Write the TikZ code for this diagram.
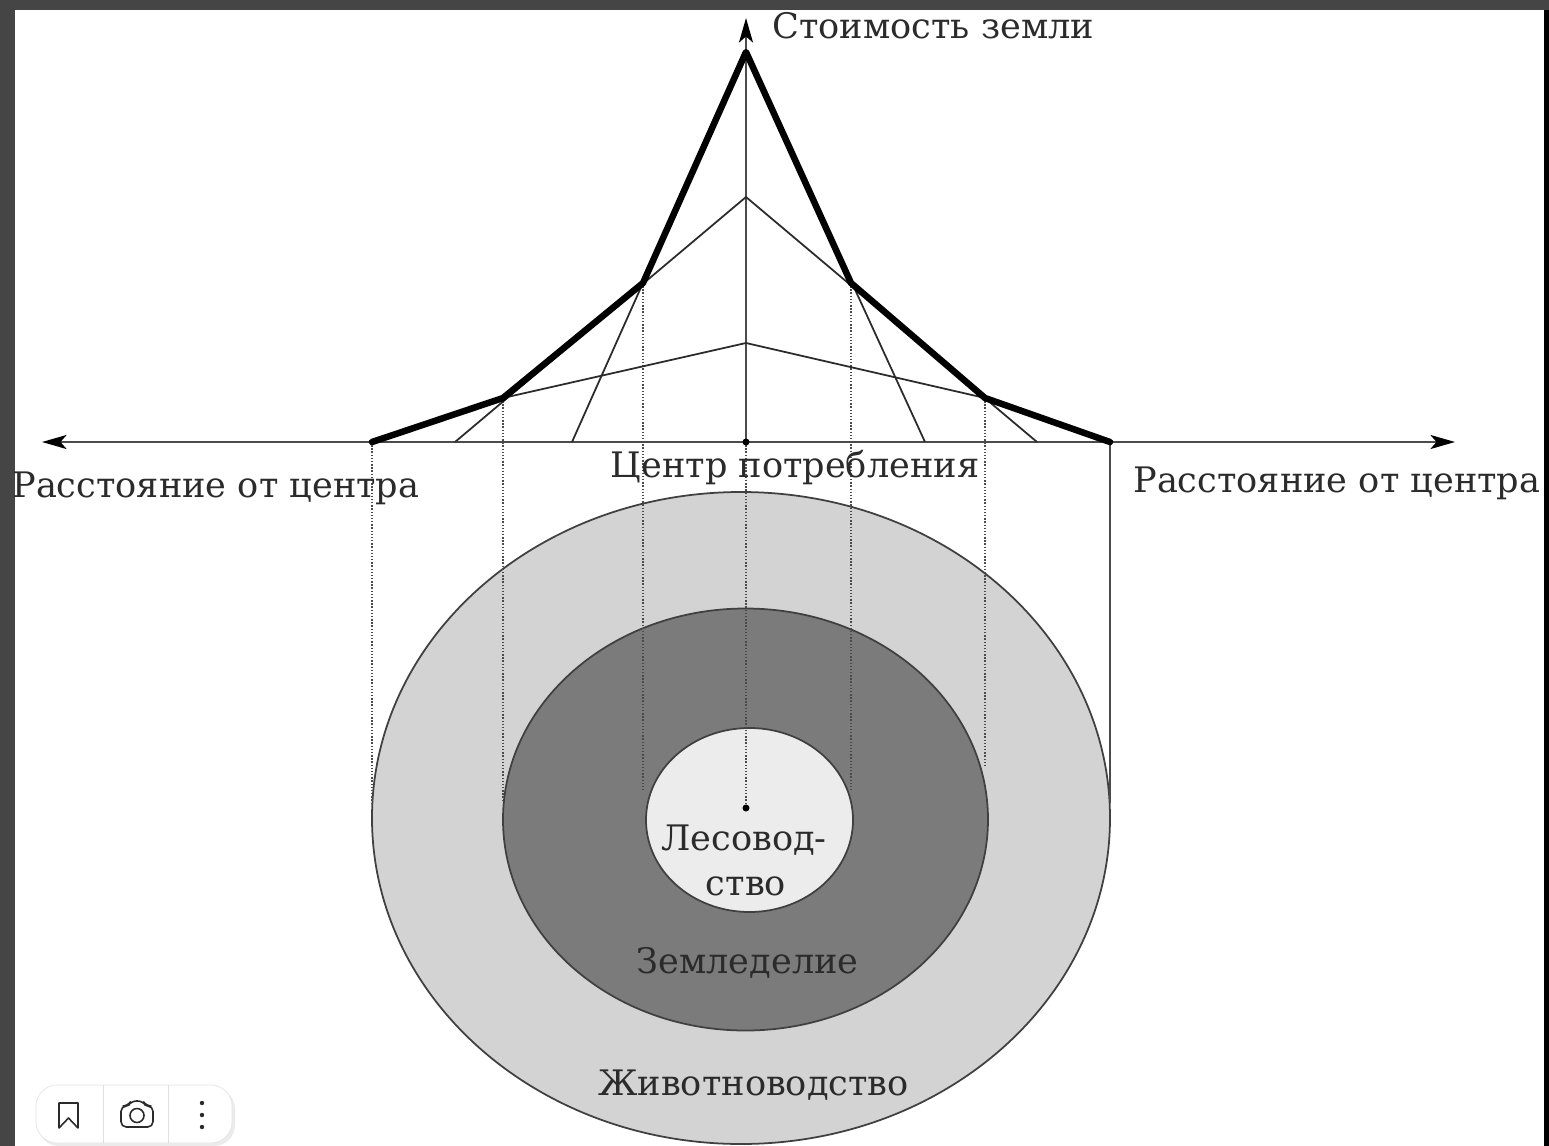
\documentclass[tikz,border=0pt]{standalone}
\usepackage{fontspec}
\setmainfont{DejaVu Serif}
\usetikzlibrary{arrows.meta}

\definecolor{frame}{HTML}{454545}
\definecolor{ink}{HTML}{2B2B2B}
\definecolor{ringout}{HTML}{D3D3D3}
\definecolor{ringmid}{HTML}{7B7B7B}
\definecolor{ringin}{HTML}{ECECEC}

\tikzset{
  axisline/.style={draw=ink!85, line width=1.1pt},
  rentline/.style={draw=ink, line width=1pt},
  bestline/.style={draw=black, line width=3.7pt, line join=round, line cap=round},
  dropline/.style={draw=ink!85, line width=0.8pt, densely dotted},
  ring/.style={draw=ink!90, line width=1pt},
  zonetext/.style={text=ink, font=\fontsize{20}{24}\selectfont, inner sep=0pt},
  tip/.style={-{Stealth[length=14pt, width=8pt, inset=3.5pt, color=black]}},
}

\begin{document}
\begin{tikzpicture}[x=0.02cm, y=-0.02cm]
    \useasboundingbox (0,0) rectangle (1549,1146);
    \fill[white] (0,0) rectangle (1549,1146);
    % screen frame
    \fill[frame] (0,0) rectangle (1549,10);
    \fill[frame] (0,0) rectangle (15,1146);
    \fill[black] (1544,10) rectangle (1549,1146);

    % key points of the rent lines
    \coordinate (O) at (746,442);
    \coordinate (top) at (746,18);
    \coordinate (west) at (42,442);
    \coordinate (east) at (1455,442);
    \coordinate (pF) at (746,52);
    \coordinate (pA) at (746,197);
    \coordinate (pL) at (746,343);
    \coordinate (lFA) at (643,283);
    \coordinate (rFA) at (851,283);
    \coordinate (lAL) at (503,398);
    \coordinate (rAL) at (985,398);
    \coordinate (lL) at (372,442);
    \coordinate (rL) at (1110,442);
    \coordinate (lF0) at (572,442);
    \coordinate (rF0) at (925,442);
    \coordinate (lA0) at (455,442);
    \coordinate (rA0) at (1037,442);
    \coordinate (C) at (746,808);

    % zones
    \filldraw[ring, fill=ringout] (741,818) ellipse [x radius=369, y radius=326];
    \filldraw[ring, fill=ringmid] (745.5,819.5) ellipse [x radius=242.5, y radius=211];
    \filldraw[ring, fill=ringin] (749.5,820) ellipse [x radius=103.5, y radius=92];

    % projections down to the zones
    \coordinate (dL) at (372,805);
    \coordinate (dAL) at (503,800);
    \coordinate (dFA) at (643,790);
    \coordinate (eFA) at (851,790);
    \coordinate (eAL) at (985,765);
    \coordinate (eL) at (1110,803);
    \draw[dropline] (lL) -- (dL);
    \draw[dropline] (lAL) -- (dAL);
    \draw[dropline] (lFA) -- (dFA);
    \draw[dropline] (O) -- (C);
    \draw[dropline] (rFA) -- (eFA);
    \draw[dropline] (rAL) -- (eAL);
    \draw[axisline] (rL) -- (eL);

    % axes
    \draw[axisline, tip] (O) -- (west);
    \draw[axisline, tip] (O) -- (east);
    \draw[axisline, tip] (O) -- (top);

    % rent lines
    \draw[rentline] (lF0) -- (pF) -- (rF0);
    \draw[rentline] (lA0) -- (pA) -- (rA0);
    \draw[rentline] (lAL) -- (pL) -- (rAL);
    \draw[bestline] (lL) -- (lAL) -- (lFA) -- (pF) -- (rFA) -- (rAL) -- (rL);

    \fill[black] (O) circle [radius=3.5];
    \fill[black] (C) circle [radius=3.5];

    % texts
    \node[zonetext, anchor=base west] (ylabel) at (772,38) {Стоимость земли};
    \node[zonetext, anchor=base west] (xleft) at (12,497) {Расстояние от центра};
    \node[zonetext, anchor=base west] (xright) at (1133,492) {Расстояние от центра};
    \node[zonetext, anchor=base] (centre) at (795,477) {Центр потребления};
    \node[zonetext, anchor=base] (forest) at (744,850) {Лесовод-};
    \node[zonetext, anchor=base] (forest2) at (746,895) {ство};
    \node[zonetext, anchor=base] (farm) at (747.5,973) {Земледелие};
    \node[zonetext, anchor=base] (herd) at (753.5,1095) {Животноводство};

    % viewer toolbar
    \fill[black!8, rounded corners=12] (38,1088) rectangle (235,1146);
    \filldraw[draw=black!10, fill=white, rounded corners=12] (36,1085) rectangle (232,1143);
    \draw[black!12] (103,1085) -- (103,1143);
    \draw[black!12] (168,1085) -- (168,1143);
    \draw[ink, line width=0.9pt, line join=round] (59,1128) -- (59,1103) -- (78,1103) -- (78,1128) -- (68.5,1118) -- cycle;
    \draw[ink, line width=0.9pt, rounded corners=3] (121,1127) -- (121,1106) -- (128,1106) -- (131,1101) -- (143,1101) -- (146,1106) -- (153,1106) -- (153,1127) -- cycle;
    \draw[ink, line width=0.9pt] (137,1115.5) circle [radius=7];
    \foreach \dy in {1103,1115,1127}
      \fill[ink] (202,\dy) circle [radius=2.2];
\end{tikzpicture}
\end{document}
